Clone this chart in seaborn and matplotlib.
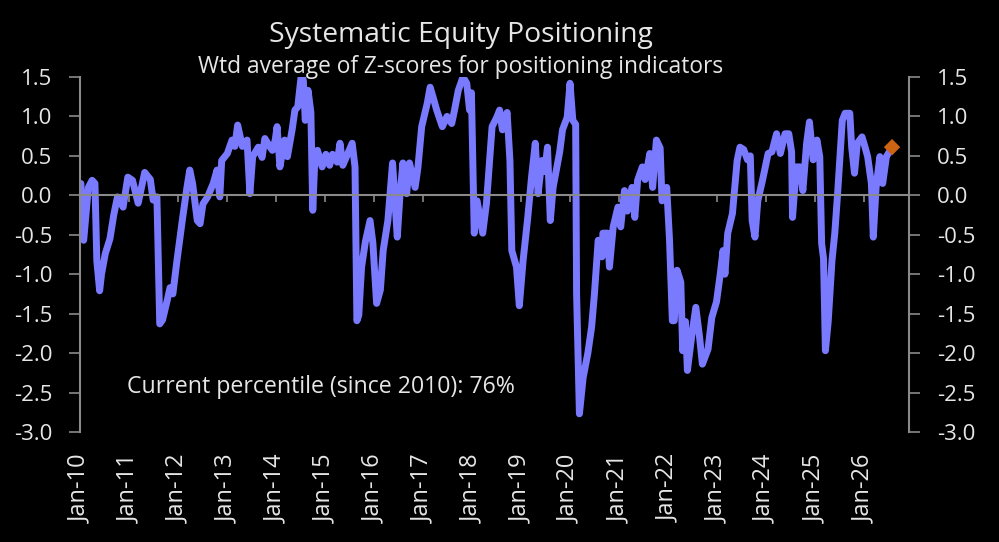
import pandas as pd
import numpy as np
import seaborn as sns
import matplotlib.pyplot as plt
import matplotlib.dates as mdates
from matplotlib.ticker import FormatStrFormatter

# weeks since Jan-2010 and the weighted z-score
week = [1, 4, 9, 13, 16, 18, 21, 23, 27, 32, 36, 40, 46, 51, 56, 62, 69, 75, 78, 82,
        85, 88, 93, 96, 99, 103, 109, 114, 117, 120, 125, 128, 131, 136, 142, 146, 149, 151, 157, 162,
        165, 168, 173, 178, 181, 184, 190, 194, 197, 202, 205, 208, 210, 213, 218, 221, 226, 229, 232, 236,
        238, 240, 243, 246, 248, 250, 253, 258, 262, 266, 269, 274, 277, 280, 285, 290, 293, 295, 297, 300,
        304, 309, 312, 316, 320, 323, 328, 333, 338, 341, 344, 348, 351, 357, 360, 364, 370, 373, 376, 380,
        386, 391, 396, 399, 403, 408, 412, 415, 417, 420, 423, 429, 433, 439, 444, 447, 450, 455, 458, 460,
        465, 468, 472, 477, 481, 485, 488, 492, 495, 498, 501, 504, 508, 511, 514, 519, 522, 525, 528, 529,
        532, 536, 541, 545, 548, 552, 556, 557, 562, 564, 568, 573, 576, 580, 583, 588, 591, 594, 599, 602,
        607, 610, 614, 618, 620, 625, 628, 631, 633, 636, 640, 642, 645, 647, 652, 656, 660, 663, 669, 673,
        678, 682, 685, 687, 690, 695, 700, 703, 707, 711, 714, 716, 719, 722, 727, 733, 737, 742, 746, 751,
        755, 758, 759, 763, 767, 770, 774, 777, 781, 785, 788, 790, 792, 794, 797, 801, 804, 807, 812, 815,
        820, 822, 825, 828, 833, 836, 839, 843, 845, 848, 852, 855, 859, 863]
zscore = [0.15, -0.57, 0.10, 0.19, 0.15, -0.83, -1.21, -1.00, -0.74, -0.55, -0.25, -0.02, -0.15, 0.23, 0.19, -0.10, 0.29, 0.20, -0.06, -0.02,
          -1.63, -1.58, -1.33, -1.17, -1.25, -0.86, -0.32, 0.10, 0.32, 0.15, -0.32, -0.36, -0.11, -0.02, 0.15, 0.32, -0.02, 0.44, 0.53, 0.70,
          0.62, 0.89, 0.62, 0.70, 0.02, 0.49, 0.61, 0.48, 0.72, 0.62, 0.57, 0.70, 0.87, 0.36, 0.70, 0.49, 0.83, 1.08, 1.12, 1.55,
          1.45, 0.95, 1.33, 1.05, -0.19, 0.40, 0.57, 0.36, 0.52, 0.38, 0.52, 0.42, 0.66, 0.38, 0.52, 0.66, 0.36, -1.59, -1.52, -0.91,
          -0.59, -0.32, -0.60, -1.37, -1.20, -0.70, -0.32, 0.41, -0.53, 0.02, 0.41, 0.02, 0.41, 0.10, 0.35, 0.87, 1.17, 1.37, 1.25, 1.08,
          0.87, 1.00, 0.91, 1.08, 1.33, 1.50, 1.42, 1.08, 1.30, -0.48, -0.07, -0.48, -0.10, 0.87, 0.99, 1.08, 0.83, 1.05, 0.44, -0.70,
          -0.91, -1.40, -0.83, -0.28, 0.23, 0.66, 0.02, 0.44, 0.30, 0.61, -0.32, 0.10, 0.36, 0.55, 0.83, 0.99, 1.42, 0.95, 0.90, -1.25,
          -2.77, -2.31, -2.00, -1.67, -1.25, -0.57, -0.78, -0.48, -0.48, -0.91, -0.40, -0.15, -0.40, 0.06, -0.20, 0.10, -0.28, 0.19, 0.36, 0.20,
          0.53, 0.10, 0.70, 0.60, -0.07, 0.10, -0.57, -1.59, -1.59, -0.95, -1.10, -1.97, -1.60, -2.22, -1.75, -1.42, -1.80, -2.14, -1.95, -1.55,
          -1.35, -1.00, -0.70, -1.00, -0.48, -0.23, 0.44, 0.61, 0.58, 0.45, 0.50, -0.32, -0.53, -0.07, 0.19, 0.53, 0.55, 0.78, 0.53, 0.78,
          0.78, 0.55, -0.28, 0.36, 0.36, 0.06, 0.66, 0.93, 0.45, 0.70, 0.49, -0.61, -0.80, -1.97, -1.60, -0.83, -0.48, 0.02, 0.95, 1.04,
          1.04, 0.61, 0.28, 0.66, 0.74, 0.62, 0.49, 0.15, -0.53, 0.10, 0.49, 0.15, 0.49, 0.57]
latest_week = [865]
latest_value = [0.61]
yticks = [1.5, 1.0, 0.5, 0.0, -0.5, -1.0, -1.5, -2.0, -2.5, -3.0]

start = pd.Timestamp('2010-01-01')
df = pd.DataFrame({'date': start + pd.to_timedelta(week, unit='W'), 'z': zscore})
last = pd.DataFrame({'date': start + pd.to_timedelta(latest_week, unit='W'), 'z': latest_value})

sns.set_style('dark')
plt.rcParams['font.family'] = ['Open Sans', 'DejaVu Sans']
plt.rcParams['axes.unicode_minus'] = False

txt = '#e6e6e6'
grey = '#8a8a8a'

fig = plt.figure(figsize=(9.99, 5.42), dpi=100, facecolor='black')
ax = fig.add_axes([0.080, 0.203, 0.830, 0.655])
ax.set_facecolor('black')

sns.lineplot(data=df, x='date', y='z', ax=ax, color='#7a7aff', linewidth=5.0)
sns.scatterplot(data=last, x='date', y='z', ax=ax, color='#cc6414', marker='D', s=70, edgecolor='none', zorder=5)

ax.set_xlim(pd.Timestamp('2010-01-01'), pd.Timestamp('2026-12-05'))
ax.set_ylim(-3.0, 1.5)
ax.set_yticks(yticks)
ax.yaxis.set_major_formatter(FormatStrFormatter('%.1f'))
ax.set_xlabel('')
ax.set_ylabel('')
ax.grid(False)

# x axis drawn through zero with ticks, labels sit below the plot
ax.spines['bottom'].set_position(('data', 0))
ax.spines['top'].set_visible(False)
for s in ['bottom', 'left', 'right']:
    ax.spines[s].set_visible(True)
    ax.spines[s].set_color(grey)
    ax.spines[s].set_linewidth(1.5)
ax.xaxis.set_major_locator(mdates.YearLocator())
ax.tick_params(axis='x', direction='out', length=5, width=1.2, color=grey, labelbottom=False, bottom=True)
ax.tick_params(axis='y', direction='out', length=8, width=1.2, color=grey, left=True, right=True,
               labelleft=True, labelright=True, labelsize=16, labelcolor=txt, pad=12)

sec = ax.secondary_xaxis(0.0)
sec.xaxis.set_major_locator(mdates.YearLocator())
sec.xaxis.set_major_formatter(mdates.DateFormatter('%b-%y'))
sec.spines['bottom'].set_visible(False)
sec.tick_params(axis='x', length=0, pad=16, labelsize=17, labelcolor=txt, labelrotation=90)

fig.text(0.4615, 0.935, 'Systematic Equity Positioning', ha='center', va='center', color=txt, fontsize=20.3)
fig.text(0.4615, 0.876, 'Wtd average of Z-scores for positioning indicators', ha='center', va='center', color=txt, fontsize=16.4)
ax.text(0.057, 0.127, 'Current percentile (since 2010): 76%', transform=ax.transAxes, ha='left', va='center',
        color=txt, fontsize=16.7)

fig.savefig('out.png', dpi=100, facecolor='black')
